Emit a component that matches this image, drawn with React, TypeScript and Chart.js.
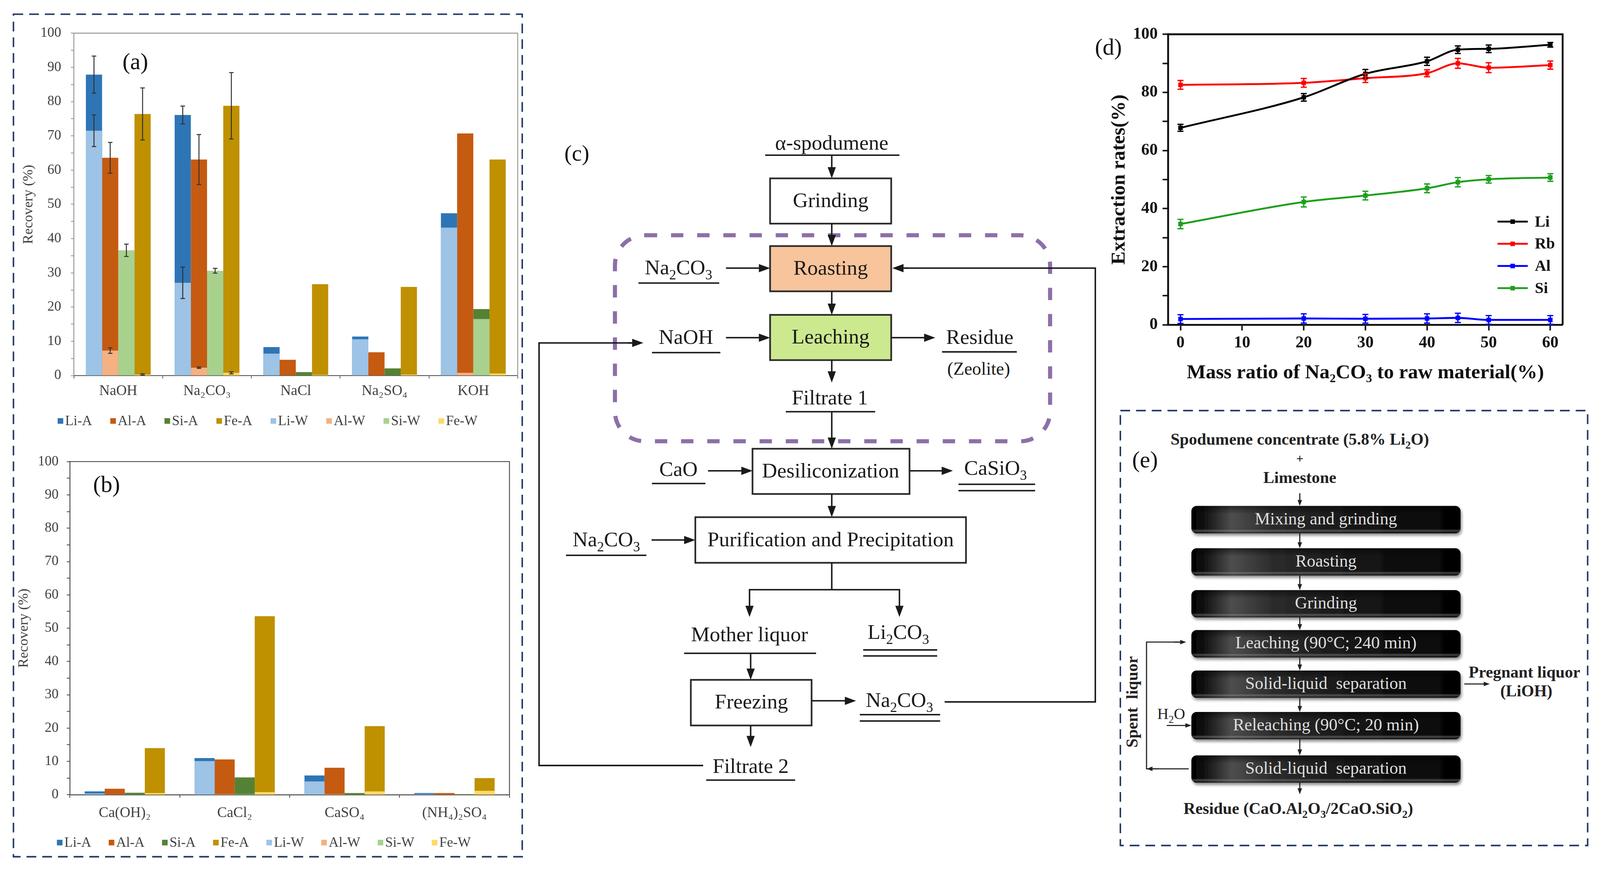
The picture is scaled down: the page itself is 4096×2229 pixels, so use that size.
import React, { useEffect, useRef } from "react";
import { Chart, registerables } from "chart.js";
Chart.register(...registerables);

const S = 0.957;
const SERIF = '"Liberation Serif", "Times New Roman", Times, serif';

// ---------------- panel (a) data ----------------
const catsA = ["NaOH", "Na₂CO₃", "NaCl", "Na₂SO₄", "KOH"];
const liA_a = [87.9, 76.1, 8.3, 11.4, 47.4];
const alA_a = [63.6, 63.1, 4.6, 6.8, 70.7];
const siA_a = [36.0, 30.0, 1.0, 2.1, 19.4];
const feA_a = [76.4, 78.8, 26.7, 25.9, 63.1];
const liW_a = [71.5, 27.1, 6.4, 10.6, 43.2];
const alW_a = [7.3, 2.3, 0.0, 0.0, 0.8];
const siW_a = [36.6, 30.6, 0.0, 0.0, 16.5];
const feW_a = [0.3, 0.8, 0.2, 0.3, 0.6];
const liA_a_err = [5.4, 2.6, 0, 0, 0];
const alA_a_err = [4.5, 7.3, 0, 0, 0];
const siA_a_err = [0, 0, 0, 0, 0];
const feA_a_err = [7.6, 9.7, 0, 0, 0];
const liW_a_err = [4.6, 4.6, 0, 0, 0];
const alW_a_err = [0.8, 0.2, 0, 0, 0];
const siW_a_err = [1.8, 0.7, 0, 0, 0];
const feW_a_err = [0.2, 0.3, 0, 0, 0];

// ---------------- panel (b) data ----------------
const catsB = ["Ca(OH)₂", "CaCl₂", "CaSO₄", "(NH₄)₂SO₄"];
const liA_b = [1.0, 11.0, 5.8, 0.5];
const alA_b = [1.8, 10.6, 8.1, 0.5];
const siA_b = [0.6, 5.2, 0.5, 0.2];
const feA_b = [14.0, 53.6, 20.6, 5.0];
const liW_b = [0.4, 10.1, 4.0, 0.2];
const alW_b = [0.1, 0.2, 0.2, 0.1];
const siW_b = [0.1, 0.2, 0.1, 0.1];
const feW_b = [0.5, 0.8, 1.0, 1.2];

// ---------------- panel (d) data ----------------
const ratio = [0, 20, 30, 40, 45, 50, 60];
const li_d = [67.8, 78.3, 86.4, 90.7, 94.7, 95.0, 96.4];
const rb_d = [82.6, 83.3, 84.9, 86.6, 90.0, 88.5, 89.4];
const al_d = [2.0, 2.2, 2.1, 2.2, 2.4, 1.7, 1.7];
const si_d = [34.7, 42.3, 44.5, 47.0, 49.1, 50.1, 50.7];
const li_d_err = [1.2, 1.3, 1.5, 1.4, 1.3, 1.3, 0.8];
const rb_d_err = [1.5, 1.5, 1.5, 1.2, 1.7, 1.7, 1.4];
const al_d_err = [1.5, 1.6, 1.5, 1.6, 1.6, 1.5, 1.5];
const si_d_err = [1.6, 1.7, 1.5, 1.5, 1.6, 1.3, 1.3];

const legendA = ["Li-A", "Al-A", "Si-A", "Fe-A", "Li-W", "Al-W", "Si-W", "Fe-W"];
const colorsA = ["#2e75b6", "#c55a11", "#548235", "#bf9000", "#9dc3e6", "#f4b183", "#a9d18e", "#ffd966"];

// ---------------- plugins ----------------
const errorBarPlugin = {
  id: "errbars",
  afterDatasetsDraw(chart: any, _a: any, o: any) {
    const ctx = chart.ctx;
    const ys = chart.scales.y;
    chart.data.datasets.forEach((ds: any, i: number) => {
      if (!ds.errors) return;
      const meta = chart.getDatasetMeta(i);
      ctx.save();
      ctx.strokeStyle = o.color || ds.borderColor;
      ctx.lineWidth = o.width;
      meta.data.forEach((el: any, j: number) => {
        const e = ds.errors[j];
        if (!e) return;
        const raw = ds.data[j];
        const v = typeof raw === "number" ? raw : raw.y;
        const x = el.x;
        const y1 = ys.getPixelForValue(v - e);
        const y2 = ys.getPixelForValue(v + e);
        ctx.beginPath();
        ctx.moveTo(x, y1); ctx.lineTo(x, y2);
        ctx.moveTo(x - o.cap, y1); ctx.lineTo(x + o.cap, y1);
        ctx.moveTo(x - o.cap, y2); ctx.lineTo(x + o.cap, y2);
        ctx.stroke();
      });
      ctx.restore();
    });
  },
};

const legendRowPlugin = {
  id: "legendRow",
  afterDraw(chart: any, _a: any, o: any) {
    const ctx = chart.ctx;
    ctx.save();
    ctx.font = `${o.size}px ${SERIF}`;
    ctx.textBaseline = "middle";
    const ds = chart.data.datasets;
    const widths = ds.map((d: any) => o.box + o.gapText + ctx.measureText(d.label).width);
    const sum = widths.reduce((a: number, b: number) => a + b, 0);
    const gap = (o.total - sum) / (ds.length - 1);
    let x = o.cx - o.total / 2;
    ds.forEach((d: any, i: number) => {
      ctx.fillStyle = d.backgroundColor;
      ctx.fillRect(x, o.cy - o.box / 2, o.box, o.box);
      ctx.fillStyle = o.color;
      ctx.fillText(d.label, x + o.box + o.gapText, o.cy + o.size * 0.05);
      x += widths[i] + gap;
    });
    ctx.restore();
  },
};

const framePlugin = {
  id: "frame",
  afterDraw(chart: any, _a: any, o: any) {
    const { left, right, top, bottom } = chart.chartArea;
    const ctx = chart.ctx;
    ctx.save();
    ctx.strokeStyle = o.color;
    ctx.lineWidth = o.width;
    ctx.beginPath();
    ctx.moveTo(left, top);
    ctx.lineTo(right, top);
    ctx.lineTo(right, bottom);
    ctx.stroke();
    ctx.restore();
  },
};

const lineLegendPlugin = {
  id: "lineLegend",
  afterDraw(chart: any, _a: any, o: any) {
    const ctx = chart.ctx;
    ctx.save();
    ctx.font = `bold ${o.size}px ${SERIF}`;
    ctx.textBaseline = "middle";
    chart.data.datasets.forEach((d: any, i: number) => {
      const y = o.y0 + i * o.dy;
      ctx.strokeStyle = d.borderColor;
      ctx.lineWidth = o.lw;
      ctx.beginPath();
      ctx.moveTo(o.x1, y);
      ctx.lineTo(o.x2, y);
      ctx.stroke();
      ctx.fillStyle = d.borderColor;
      const m = (o.x1 + o.x2) / 2;
      ctx.fillRect(m - o.m / 2, y - o.m / 2, o.m, o.m);
      ctx.fillStyle = "#111";
      ctx.fillText(d.label, o.tx, y + o.size * 0.05);
    });
    ctx.restore();
  },
};

// ---------------- geometry helpers ----------------
type Geo = { L: number; T: number; W: number; H: number; cl: number; cr: number; ct: number; cb: number; tcx: number; tfs: number; xh?: number };
function geoLayout(g: Geo) {
  const lh = g.tfs * 1.2;
  const padLeft = g.tcx - g.L - lh / 2;
  const xh = g.xh ?? g.T + g.H - g.cb;
  return {
    padding: { left: padLeft * S, top: (g.ct - g.T) * S, right: (g.L + g.W - g.cr) * S, bottom: (g.T + g.H - g.cb - xh) * S },
    yWidth: (g.cl - g.L - padLeft) * S,
    xHeight: xh * S,
  };
}

function barConfig(cats: string[], sets: number[][], errs: (number[] | null)[], g: Geo, opt: any) {
  const lay = geoLayout(g);
  const stacks = ["Li", "Al", "Si", "Fe", "Li", "Al", "Si", "Fe"];
  return {
    type: "bar",
    data: {
      labels: cats,
      datasets: sets.map((d, i) => ({
        label: legendA[i],
        data: d,
        backgroundColor: colorsA[i],
        stack: stacks[i],
        order: i < 4 ? 1 : 0,
        errors: errs[i] || undefined,
        barPercentage: 1.0,
        categoryPercentage: 0.73,
      })),
    },
    options: {
      animation: false,
      responsive: false,
      devicePixelRatio: 1,
      layout: { padding: lay.padding },
      plugins: {
        legend: { display: false },
        tooltip: { enabled: false },
        errbars: { color: "#333", width: 2.6 * S, cap: 6 * S },
        legendRow: { cx: (opt.legCx - g.L) * S, cy: (opt.legCy - g.T) * S, total: opt.legTotal * S, box: 15 * S, gapText: 5 * S, size: 37 * S, color: "#404040" },
        frame: { color: opt.frame, width: 2.2 * S },
      },
      scales: {
        x: {
          grid: { display: true, drawOnChartArea: false, offset: true, tickLength: 8 * S, tickColor: opt.axis, tickWidth: 2 * S },
          border: { display: true, color: opt.axis, width: 2.4 * S },
          ticks: { font: { family: SERIF, size: 39 * S }, color: "#404040", padding: opt.xpad * S, maxRotation: 0, autoSkip: false },
          afterFit: (s: any) => { s.height = lay.xHeight; },
        },
        y: {
          stacked: false,
          min: 0,
          max: 100,
          grid: { display: true, drawOnChartArea: false, tickLength: 8 * S, tickColor: opt.frame, tickWidth: 2 * S },
          border: { display: true, color: opt.frame, width: 2.2 * S },
          ticks: { stepSize: 5, autoSkip: false, font: { family: SERIF, size: 37 * S }, color: "#404040", padding: opt.ypad * S, callback: (v: any) => (v % 10 === 0 ? String(v) : "") },
          title: { display: true, text: "Recovery (%)", font: { family: SERIF, size: g.tfs * S }, color: "#404040", padding: 0 },
          afterFit: (s: any) => { s.width = lay.yWidth; },
        },
      },
    },
    plugins: [errorBarPlugin, legendRowPlugin, framePlugin],
  };
}

const geoA: Geo = { L: 40, T: 40, W: 1352, H: 1130, cl: 198, cr: 1385, ct: 89, cb: 1005, tcx: 77, tfs: 38 };
const geoB: Geo = { L: 40, T: 1190, W: 1352, H: 1095, cl: 187, cr: 1363, ct: 1217, cb: 2125, tcx: 65, tfs: 38 };
const geoD: Geo = { L: 2950, T: 40, W: 1285, H: 1000, cl: 3125, cr: 4180, ct: 92, cb: 869, tcx: 2995, tfs: 53, xh: 161.4 };

function makeA() {
  return barConfig(
    catsA,
    [liA_a, alA_a, siA_a, feA_a, liW_a, alW_a, siW_a, feW_a],
    [liA_a_err, alA_a_err, siA_a_err, feA_a_err, liW_a_err, alW_a_err, siW_a_err, feW_a_err],
    geoA,
    { legCx: 716, legCy: 1126, legTotal: 1123, frame: "#8c8c8c", axis: "#595959", xpad: 10.8, ypad: 26 }
  );
}
function makeB() {
  return barConfig(
    catsB,
    [liA_b, alA_b, siA_b, feA_b, liW_b, alW_b, siW_b, feW_b],
    [null, null, null, null, null, null, null, null],
    geoB,
    { legCx: 706, legCy: 2253, legTotal: 1107, frame: "#3a3a3a", axis: "#3a3a3a", xpad: 17.8, ypad: 22 }
  );
}
function makeD() {
  const g = geoD;
  const lay = geoLayout(g);
  const mk = (label: string, ys: number[], err: number[], color: string) => ({
    label,
    data: ratio.map((x, i) => ({ x, y: ys[i] })),
    borderColor: color,
    backgroundColor: color,
    borderWidth: 5 * S,
    pointStyle: "rect",
    pointRadius: 8.5 * S,
    pointBorderWidth: 0,
    cubicInterpolationMode: "monotone",
    errors: err,
  });
  const tickFont = { family: SERIF, size: 44 * S, weight: "bold" };
  return {
    type: "line",
    data: {
      datasets: [
        mk("Li", li_d, li_d_err, "#000000"),
        mk("Rb", rb_d, rb_d_err, "#ff0000"),
        mk("Al", al_d, al_d_err, "#0000ff"),
        mk("Si", si_d, si_d_err, "#1f9f1f"),
      ],
    },
    options: {
      animation: false,
      responsive: false,
      devicePixelRatio: 1,
      layout: { padding: lay.padding },
      plugins: {
        legend: { display: false },
        tooltip: { enabled: false },
        errbars: { width: 3.5 * S, cap: 8 * S },
        frame: { color: "#111", width: 5 * S },
        lineLegend: { x1: (4006 - g.L) * S, x2: (4087 - g.L) * S, tx: (4106 - g.L) * S, y0: (593 - g.T) * S, dy: 59.3 * S, lw: 5 * S, m: 12 * S, size: 42 * S },
      },
      scales: {
        x: {
          type: "linear",
          min: -2,
          max: 62,
          grid: { display: true, drawOnChartArea: false, tickLength: 15 * S, tickColor: "#111", tickWidth: 4 * S },
          border: { display: true, color: "#111", width: 5 * S },
          ticks: { stepSize: 10, includeBounds: false, font: tickFont, color: "#111", padding: 7.6 * S, maxRotation: 0 },
          title: { display: true, text: "Mass ratio of Na₂CO₃ to raw material(%)", font: { family: SERIF, size: 54 * S, weight: "bold" }, color: "#111", padding: 0 },
          afterFit: (s: any) => { s.height = lay.xHeight; },
        },
        y: {
          min: 0,
          max: 100,
          grid: { display: true, drawOnChartArea: false, tickLength: 15 * S, tickColor: "#111", tickWidth: 4 * S },
          border: { display: true, color: "#111", width: 5 * S },
          ticks: { stepSize: 10, autoSkip: false, font: tickFont, color: "#111", padding: 13 * S, callback: (v: any) => (v % 20 === 0 ? String(v) : "") },
          title: { display: true, text: "Extraction rates(%)", font: { family: SERIF, size: g.tfs * S, weight: "bold" }, color: "#111", padding: 0 },
          afterFit: (s: any) => { s.width = lay.yWidth; },
        },
      },
    },
    plugins: [errorBarPlugin, framePlugin, lineLegendPlugin],
  };
}

function ChartCanvas({ g, make }: { g: Geo; make: () => any }) {
  const ref = useRef<HTMLCanvasElement>(null);
  useEffect(() => {
    const c = new Chart(ref.current as HTMLCanvasElement, make());
    return () => c.destroy();
  }, []);
  const w = Math.round(g.W * S);
  const h = Math.round(g.H * S);
  return (
    <canvas
      ref={ref}
      width={w}
      height={h}
      style={{ position: "absolute", left: Math.round(g.L * S), top: Math.round(g.T * S), width: w, height: h }}
    />
  );
}

// ---------------- SVG helpers (reference coordinates) ----------------
function Tx({ x, y, fs, t, w = "normal", fill = "#1a1a1a", anchor = "middle", rot }: any) {
  const parts: string[] = t.split(/(_\d+)/).filter((p: string) => p.length > 0);
  const sh = fs * 0.24;
  return (
    <text
      x={x}
      y={y + fs * 0.3}
      fontSize={fs}
      fontWeight={w}
      fill={fill}
      textAnchor={anchor}
      fontFamily={SERIF}
      style={{ whiteSpace: "pre" }}
      transform={rot ? `rotate(${rot} ${x} ${y})` : undefined}
    >
      {parts.map((p, i) => {
        const prevSub = i > 0 && parts[i - 1].startsWith("_");
        if (p.startsWith("_"))
          return (
            <tspan key={i} fontSize={fs * 0.66} dy={prevSub ? 0 : sh}>
              {p.slice(1)}
            </tspan>
          );
        return (
          <tspan key={i} dy={prevSub ? -sh : 0}>
            {p}
          </tspan>
        );
      })}
    </text>
  );
}

function Arrow({ x1, y1, x2, y2, w = 4, hl = 30, hw = 11, c = "#1a1a1a" }: any) {
  const dx = x2 - x1, dy = y2 - y1;
  const len = Math.hypot(dx, dy);
  const ux = dx / len, uy = dy / len;
  const bx = x2 - ux * hl, by = y2 - uy * hl;
  const px = -uy, py = ux;
  return (
    <g>
      <line x1={x1} y1={y1} x2={bx + ux * 2} y2={by + uy * 2} stroke={c} strokeWidth={w} />
      <polygon points={`${x2},${y2} ${bx + px * hw},${by + py * hw} ${bx - px * hw},${by - py * hw}`} fill={c} />
    </g>
  );
}

const Ln = ({ x1, y1, x2, y2, w = 4, c = "#1a1a1a" }: any) => <line x1={x1} y1={y1} x2={x2} y2={y2} stroke={c} strokeWidth={w} />;

function Box({ x1, y1, x2, y2, fill = "#fff" }: any) {
  return <rect x={x1} y={y1} width={x2 - x1} height={y2 - y1} fill={fill} stroke="#2a2a2a" strokeWidth={4.5} />;
}

const eSteps = ["Mixing and grinding", "Roasting", "Grinding", "Leaching (90°C; 240 min)", "Solid-liquid  separation", "Releaching (90°C; 20 min)", "Solid-liquid  separation"];
const eTops = [1353, 1466, 1578, 1685, 1793, 1904, 2020];

function Diagrams() {
  const F = 56;
  const cx = 2225;
  return (
    <svg width={4280 * S} height={2329 * S} viewBox="0 0 4280 2329" style={{ position: "absolute", left: 0, top: 0 }}>
      <defs>
        <linearGradient id="eh" x1="0" y1="0" x2="1" y2="0">
          <stop offset="0" stopColor="#000" />
          <stop offset="0.05" stopColor="#121212" />
          <stop offset="0.15" stopColor="#4e4e4e" />
          <stop offset="0.3" stopColor="#2c2c2c" />
          <stop offset="0.6" stopColor="#171717" />
          <stop offset="1" stopColor="#030303" />
        </linearGradient>
        <linearGradient id="ev" x1="0" y1="0" x2="0" y2="1">
          <stop offset="0" stopColor="#000" stopOpacity="0.5" />
          <stop offset="0.3" stopColor="#000" stopOpacity="0" />
          <stop offset="0.82" stopColor="#000" stopOpacity="0" />
          <stop offset="0.9" stopColor="#aaa" stopOpacity="0.4" />
          <stop offset="1" stopColor="#000" stopOpacity="0.4" />
        </linearGradient>
        <filter id="sh" x="-5%" y="-30%" width="110%" height="170%">
          <feDropShadow dx="3" dy="6" stdDeviation="4" floodColor="#000" floodOpacity="0.45" />
        </filter>
      </defs>

      {/* dashed panel borders */}
      <rect x={36} y={38} width={1361} height={2253} fill="none" stroke="#203864" strokeWidth={4} strokeDasharray="26 16" />
      <rect x={2997} y={1098} width={1250} height={1163} fill="none" stroke="#203864" strokeWidth={4} strokeDasharray="26 16" />

      {/* panel labels */}
      <Tx x={362} y={166} fs={62} t="(a)" fill="#111" />
      <Tx x={285} y={1297} fs={62} t="(b)" fill="#111" />
      <Tx x={2965} y={128} fs={62} t="(d)" fill="#111" />
      <Tx x={1543} y={411} fs={60} t="(c)" fill="#111" />
      <Tx x={3063} y={1231} fs={62} t="(e)" fill="#111" />

      {/* ---------- panel (c) ---------- */}
      <rect x={1645} y={629} width={1164} height={551} rx={80} ry={80} fill="none" stroke="#8d6fa9" strokeWidth={11} strokeDasharray="33 37" />
      <Tx x={cx} y={383} fs={F} t="α-spodumene" />
      <Ln x1={2047} y1={415} x2={2406} y2={415} />
      <Arrow x1={cx} y1={415} x2={cx} y2={477} />
      <Box x1={2060} y1={477} x2={2384} y2={598} />
      <Tx x={2222} y={537} fs={F} t="Grinding" />
      <Arrow x1={cx} y1={598} x2={cx} y2={658} />
      <Box x1={2060} y1={658} x2={2384} y2={779} fill="#f8c49b" />
      <Tx x={2222} y={718} fs={F} t="Roasting" />
      <Arrow x1={cx} y1={779} x2={cx} y2={842} />
      <Box x1={2060} y1={842} x2={2384} y2={963} fill="#cde98f" />
      <Tx x={2222} y={902} fs={F} t="Leaching" />
      <Arrow x1={cx} y1={963} x2={cx} y2={1023} />
      <Tx x={2220} y={1065} fs={F} t="Filtrate 1" />
      <Ln x1={2102} y1={1101} x2={2341} y2={1101} />
      <Arrow x1={cx} y1={1101} x2={cx} y2={1200} />

      <Tx x={1815} y={717} fs={F} t="Na_2CO_3" />
      <Ln x1={1708} y1={757} x2={1924} y2={757} />
      <Arrow x1={1942} y1={717} x2={2060} y2={717} />
      <Tx x={1835} y={903} fs={F} t="NaOH" />
      <Ln x1={1744} y1={943} x2={1927} y2={943} />
      <Arrow x1={1942} y1={903} x2={2060} y2={903} />
      <Arrow x1={2384} y1={903} x2={2502} y2={903} />
      <Tx x={2621} y={903} fs={F} t="Residue" />
      <Ln x1={2520} y1={941} x2={2720} y2={941} />
      <Tx x={2618} y={988} fs={48} t="(Zeolite)" />

      <Box x1={2013} y1={1200} x2={2433} y2={1321} />
      <Tx x={2222} y={1260} fs={F} t="Desiliconization" />
      <Tx x={1815} y={1256} fs={F} t="CaO" />
      <Ln x1={1744} y1={1293} x2={1887} y2={1293} />
      <Arrow x1={1894} y1={1259} x2={2013} y2={1259} />
      <Arrow x1={2433} y1={1259} x2={2549} y2={1259} />
      <Tx x={2663} y={1253} fs={F} t="CaSiO_3" />
      <Ln x1={2564} y1={1295} x2={2769} y2={1295} />
      <Ln x1={2564} y1={1312} x2={2769} y2={1312} />
      <Arrow x1={cx} y1={1321} x2={cx} y2={1383} />

      <Box x1={1860} y1={1383} x2={2584} y2={1505} />
      <Tx x={2222} y={1444} fs={F} t="Purification and Precipitation" />
      <Tx x={1622} y={1444} fs={F} t="Na_2CO_3" />
      <Ln x1={1514} y1={1485} x2={1729} y2={1485} />
      <Arrow x1={1743} y1={1444} x2={1860} y2={1444} />
      <Ln x1={cx} y1={1505} x2={cx} y2={1577} />
      <Ln x1={2003} y1={1577} x2={2408} y2={1577} />
      <Arrow x1={2005} y1={1577} x2={2005} y2={1650} />
      <Arrow x1={2406} y1={1577} x2={2406} y2={1650} />
      <Tx x={2005} y={1698} fs={F} t="Mother liquor" />
      <Ln x1={1830} y1={1747} x2={2183} y2={1747} />
      <Tx x={2403} y={1692} fs={F} t="Li_2CO_3" />
      <Ln x1={2309} y1={1738} x2={2507} y2={1738} />
      <Ln x1={2309} y1={1754} x2={2507} y2={1754} />
      <Arrow x1={2008} y1={1747} x2={2008} y2={1818} />
      <Box x1={1848} y1={1818} x2={2171} y2={1940} />
      <Tx x={2010} y={1878} fs={F} t="Freezing" />
      <Arrow x1={2171} y1={1874} x2={2290} y2={1874} />
      <Tx x={2406} y={1874} fs={F} t="Na_2CO_3" />
      <Ln x1={2300} y1={1911} x2={2515} y2={1911} />
      <Ln x1={2300} y1={1928} x2={2515} y2={1928} />
      <Arrow x1={2008} y1={1940} x2={2008} y2={1998} />
      <Tx x={2008} y={2050} fs={F} t="Filtrate 2" />
      <Ln x1={1889} y1={2086} x2={2127} y2={2086} />
      {/* loops */}
      <polyline points="2527,1877 2930,1877 2930,717 2420,717" fill="none" stroke="#1a1a1a" strokeWidth={4} />
      <Arrow x1={2430} y1={717} x2={2387} y2={717} />
      <polyline points="1881,2047 1442,2047 1442,917 1690,917" fill="none" stroke="#1a1a1a" strokeWidth={4} />
      <Arrow x1={1680} y1={917} x2={1721} y2={917} />

      {/* ---------- panel (e) ---------- */}
      <Tx x={3477} y={1176} fs={44} w="bold" t="Spodumene concentrate (5.8% Li_2O)" fill="#222" />
      <Tx x={3477} y={1227} fs={34} w="bold" t="+" fill="#222" />
      <Tx x={3477} y={1278} fs={44} w="bold" t="Limestone" fill="#222" />
      <Arrow x1={3477} y1={1319} x2={3477} y2={1353} w={3} hl={16} hw={6} c="#222" />
      {eSteps.map((s, i) => {
        const y = eTops[i];
        return (
          <g key={i}>
            <rect x={3187} y={y} width={720} height={73} rx={14} ry={14} fill="url(#eh)" filter="url(#sh)" />
            <rect x={3187} y={y} width={720} height={73} rx={14} ry={14} fill="url(#ev)" />
            <Tx x={3547} y={y + 35} fs={46} t={s} fill="#dedede" />
            {i < eSteps.length - 1 && (
              <Arrow x1={3477} y1={y + 73} x2={3477} y2={eTops[i + 1]} w={3} hl={16} hw={6} c="#222" />
            )}
          </g>
        );
      })}
      <Arrow x1={3477} y1={2093} x2={3477} y2={2124} w={3} hl={16} hw={6} c="#222" />
      <Tx x={3473} y={2163} fs={44} w="bold" t="Residue (CaO.Al_2O_3/2CaO.SiO_2)" fill="#222" />
      <Arrow x1={3917} y1={1829} x2={3985} y2={1829} w={3} hl={16} hw={6} c="#222" />
      <Tx x={4078} y={1799} fs={44} w="bold" t="Pregnant liquor" fill="#222" />
      <Tx x={4083} y={1849} fs={44} w="bold" t="(LiOH)" fill="#222" />
      <Tx x={3030} y={1877} fs={44} w="bold" t="Spent  liquor" fill="#222" rot={-90} />
      <polyline points="3180,2056 3067,2056 3067,1717 3160,1717" fill="none" stroke="#222" strokeWidth={3} />
      <Arrow x1={3100} y1={2056} x2={3067} y2={2056} w={3} hl={16} hw={6} c="#222" />
      <Arrow x1={3140} y1={1717} x2={3173} y2={1717} w={3} hl={16} hw={6} c="#222" />
      <Tx x={3133} y={1910} fs={42} t="H_2O" fill="#222" />
      <Arrow x1={3121} y1={1940} x2={3187} y2={1940} w={3} hl={16} hw={6} c="#222" />
    </svg>
  );
}

export default function App() {
  return (
    <div style={{ position: "absolute", left: 0, top: 0, width: 4096, height: 2229, background: "#fff", overflow: "hidden" }}>
      <Diagrams />
      <ChartCanvas g={geoA} make={makeA} />
      <ChartCanvas g={geoB} make={makeB} />
      <ChartCanvas g={geoD} make={makeD} />
    </div>
  );
}
